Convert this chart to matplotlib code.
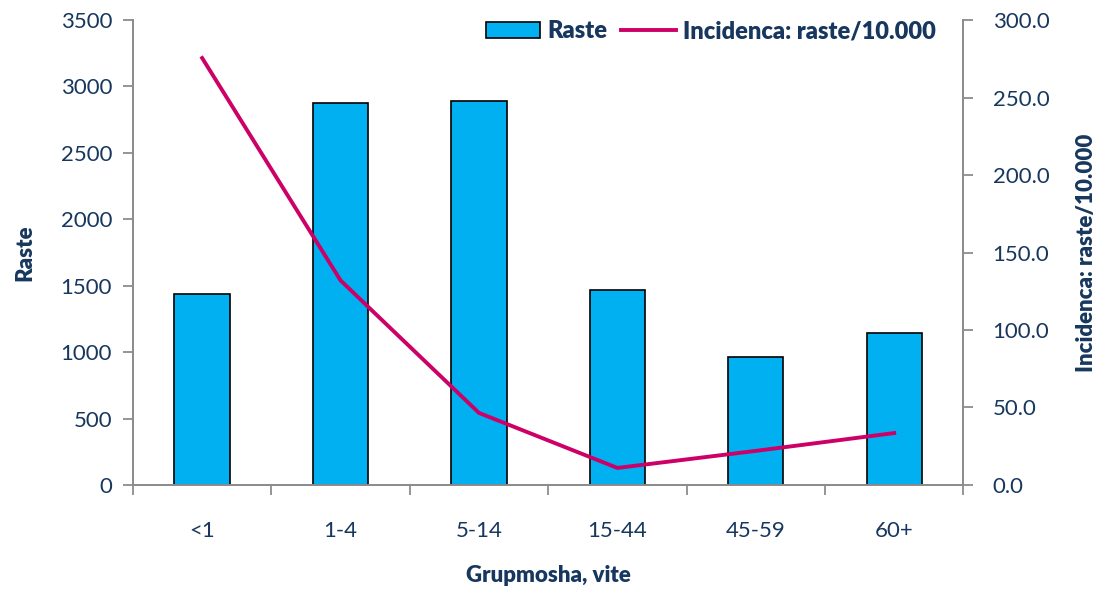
import matplotlib.pyplot as plt
import numpy as np
from matplotlib.ticker import FormatStrFormatter, FixedLocator

plt.rcParams['font.family'] = ['Lato', 'DejaVu Sans']

groups = ['<1', '1-4', '5-14', '15-44', '45-59', '60+']
cases = [1437, 2875, 2890, 1467, 963, 1144]
incidence = [275.5, 132.0, 46.5, 11.0, 22.0, 33.5]

text_col = '#17375E'
spine_col = '#8C8C8C'

fig = plt.figure(figsize=(10.97, 5.90), dpi=100)
ax = fig.add_axes([0.1212, 0.178, 0.757, 0.788])
ax2 = ax.twinx()

x = np.arange(len(groups))
bars = ax.bar(x, cases, width=0.40, color='#00B0F0', edgecolor='black',
              linewidth=1.2, label='Raste', zorder=2)
line, = ax2.plot(x, incidence, color='#CC0066', linewidth=2.8,
                 label='Incidenca: raste/10.000', zorder=3)

ax.set_xlim(-0.5, len(groups) - 0.5)
ax.set_ylim(0, 3500)
ax.set_yticks(np.arange(0, 3501, 500))
ax2.set_ylim(0, 300)
ax2.set_yticks(np.arange(0, 301, 50))
ax2.yaxis.set_major_formatter(FormatStrFormatter('%.1f'))

ax.set_xticks(x)
ax.set_xticklabels(groups)
ax.xaxis.set_minor_locator(FixedLocator(np.arange(-0.5, len(groups), 1.0)))
ax.tick_params(axis='x', which='major', length=0, pad=26)
ax.tick_params(axis='x', which='minor', length=7, color=spine_col, width=1.3)
ax.tick_params(axis='y', length=7, color=spine_col, width=1.3, pad=8)
ax2.tick_params(axis='y', length=7, color=spine_col, width=1.3, pad=14)
for a in (ax, ax2):
    a.tick_params(labelsize=16, labelcolor=text_col)
    a.spines['top'].set_visible(False)
    for s in ('left', 'right', 'bottom'):
        a.spines[s].set_color(spine_col)
        a.spines[s].set_linewidth(1.3)

ax.set_xlabel('Grupmosha, vite', fontsize=16, fontweight='heavy', color=text_col, labelpad=17)
ax.set_ylabel('Raste', fontsize=16, fontweight='heavy', color=text_col, labelpad=18)
ax2.set_ylabel('Incidenca: raste/10.000', fontsize=16, fontweight='heavy', color=text_col, labelpad=19)

leg = ax2.legend([bars, line], ['Raste', 'Incidenca: raste/10.000'], loc='upper right',
                 bbox_to_anchor=(0.992, 1.045), ncol=2, frameon=False,
                 prop={'size': 17, 'weight': 'heavy'},
                 handlelength=2.3, handletextpad=0.3, columnspacing=0.6)
for t in leg.get_texts():
    t.set_color(text_col)

fig.savefig('out.png', dpi=100)
